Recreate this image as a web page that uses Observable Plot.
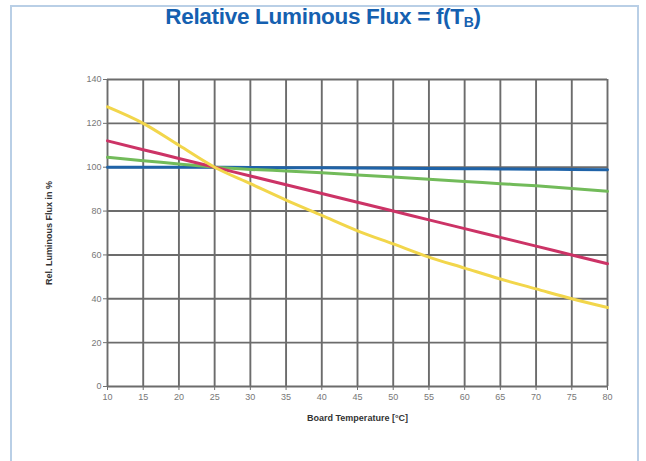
<!DOCTYPE html>
<html><head><meta charset="utf-8">
<script src="https://cdn.jsdelivr.net/npm/d3@7"></script>
<script src="https://cdn.jsdelivr.net/npm/@observablehq/plot@0.6"></script>
<style>
body{margin:0;background:#fff;width:646px;height:461px;overflow:hidden;position:relative;font-family:"Liberation Sans",Arial,sans-serif}
#frame{position:absolute;left:10px;top:5px;width:629px;height:470px;border:2px solid #b9cfe6;box-sizing:border-box}
#title{position:absolute;left:0;width:646px;top:4px;text-align:center;font-weight:bold;font-size:22.5px;color:#1560b0;letter-spacing:-0.3px}
#title sub{font-size:14px;vertical-align:-3px}
#chart{position:absolute;left:0;top:40px}
</style></head><body>
<div id="frame"></div>
<div id="title">Relative Luminous Flux = f(T<sub>B</sub>)</div>
<div id="chart"></div>
<script>
const temps  = [10, 15, 20, 25, 30, 35, 40, 45, 50, 55, 60, 65, 70, 75, 80];
const blue   = [100, 100, 100, 100, 99.9, 99.8, 99.7, 99.6, 99.5, 99.4, 99.3, 99.2, 99.1, 99, 98.9];
const green  = [104.5, 103, 101.5, 100, 99, 98.3, 97.5, 96.5, 95.5, 94.5, 93.5, 92.5, 91.5, 90.3, 89];
const red    = [112, 108, 104, 100, 96, 92, 88, 84, 80, 76, 72, 68, 64, 60, 56];
const yellow = [127.5, 120, 110, 100, 92.5, 85, 78, 71, 65, 59, 54, 49, 44.5, 40, 36];
const xTicks = [10, 15, 20, 25, 30, 35, 40, 45, 50, 55, 60, 65, 70, 75, 80];
const yTicks = [0, 20, 40, 60, 80, 100, 120, 140];

const series = [
  {name: "blue", values: blue, color: "#1f63a8"},
  {name: "green", values: green, color: "#72bb5a"},
  {name: "red", values: red, color: "#cc3366"},
  {name: "yellow", values: yellow, color: "#f2d64b"}
];
const rows = series.flatMap(s => temps.map((t, i) => ({t, v: s.values[i], s: s.name, c: s.color})));

const chart = Plot.plot({
  width: 646, height: 421,
  marginLeft: 107, marginRight: 39, marginTop: 39, marginBottom: 75,
  x: {domain: [10, 80]},
  y: {domain: [0, 140]},
  style: {fontFamily: "Liberation Sans, Arial, sans-serif", color: "#555", fontSize: "9px"},
  marks: [
    Plot.ruleX(xTicks, {stroke: "#6c6c6c", strokeWidth: 1.9}),
    Plot.ruleY(yTicks, {stroke: "#6c6c6c", strokeWidth: 1.9}),
    Plot.axisX({ticks: xTicks, tickSize: 4, tickPadding: 3, tickFormat: d => String(d), label: "Board Temperature [°C]", labelAnchor: "center", labelArrow: "none", labelOffset: 34, fill: "#777", stroke: "#707070"}),
    Plot.axisY({ticks: yTicks, tickSize: 4, tickPadding: 2, label: "Rel. Luminous Flux in %", labelAnchor: "center", labelArrow: "none", labelOffset: 62, fill: "#777", stroke: "#707070"}),
    ...series.map(s => Plot.line(rows.filter(r => r.s === s.name), {x: "t", y: "v", stroke: s.color, strokeWidth: 3, curve: "monotone-x"}))
  ]
});
d3.select(chart).selectAll("[aria-label='x-axis label'] text, [aria-label='y-axis label'] text").style("font-weight", "bold").style("fill", "#333");
document.getElementById("chart").appendChild(chart);
</script>
</body></html>
